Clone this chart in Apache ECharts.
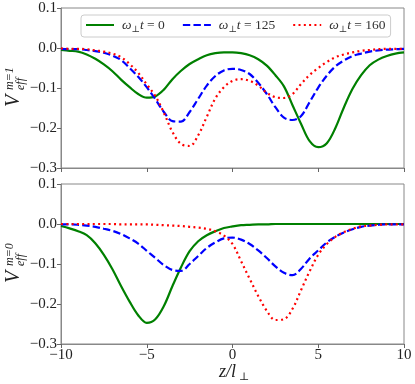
<!DOCTYPE html>
<html>
<head>
<meta charset="utf-8">
<script src="https://cdn.jsdelivr.net/npm/echarts@6/dist/echarts.min.js"></script>
<style>
  html, body { margin: 0; padding: 0; background: #fff; }
  #chart { width: 415px; height: 384px; }
</style>
</head>
<body>
<div id="chart"></div>
<script>
// z / l_perp sample points
var zs = [-10, -9.5, -9, -8.5, -8, -7.5, -7, -6.5, -6, -5.5, -5, -4.5, -4, -3.5, -3, -2.5, -2, -1.5, -1, -0.5,
          0, 0.5, 1, 1.5, 2, 2.5, 3, 3.5, 4, 4.5, 5, 5.5, 6, 6.5, 7, 7.5, 8, 8.5, 9, 9.5, 10];

// top panel, m = 1
var top_t0 = [-0.005, -0.007, -0.009, -0.016, -0.027, -0.041, -0.058, -0.079, -0.098, -0.115, -0.124, -0.121, -0.104, -0.078, -0.057, -0.040, -0.028, -0.018, -0.013, -0.011,
              -0.011, -0.013, -0.018, -0.028, -0.044, -0.068, -0.096, -0.143, -0.190, -0.233, -0.248, -0.238, -0.200, -0.148, -0.102, -0.068, -0.043, -0.029, -0.020, -0.014, -0.011];
var top_t125 = [-0.002, -0.003, -0.003, -0.005, -0.008, -0.012, -0.019, -0.030, -0.050, -0.072, -0.098, -0.128, -0.160, -0.183, -0.184, -0.160, -0.127, -0.094, -0.070, -0.056,
                -0.052, -0.055, -0.065, -0.087, -0.115, -0.148, -0.174, -0.180, -0.170, -0.135, -0.099, -0.069, -0.046, -0.031, -0.020, -0.014, -0.009, -0.006, -0.004, -0.003, -0.002];
var top_t160 = [-0.001, -0.002, -0.002, -0.003, -0.006, -0.009, -0.014, -0.023, -0.040, -0.062, -0.091, -0.120, -0.162, -0.210, -0.240, -0.245, -0.218, -0.172, -0.126, -0.098,
                -0.082, -0.078, -0.082, -0.094, -0.112, -0.123, -0.125, -0.115, -0.090, -0.067, -0.050, -0.035, -0.023, -0.016, -0.011, -0.007, -0.005, -0.003, -0.002, -0.002, -0.002];

// bottom panel, m = 0
var bot_t0 = [-0.005, -0.011, -0.018, -0.028, -0.048, -0.077, -0.113, -0.155, -0.194, -0.228, -0.247, -0.238, -0.205, -0.155, -0.108, -0.068, -0.043, -0.028, -0.018, -0.010,
              -0.006, -0.003, -0.002, -0.001, -0.001, 0, 0, 0, 0, 0, 0, 0, 0, 0, 0, 0, 0, 0, 0, 0, 0];
var bot_t125 = [-0.001, -0.001, -0.002, -0.004, -0.007, -0.012, -0.017, -0.025, -0.036, -0.049, -0.067, -0.085, -0.103, -0.115, -0.117, -0.100, -0.080, -0.060, -0.046, -0.036,
                -0.034, -0.039, -0.050, -0.066, -0.085, -0.106, -0.122, -0.128, -0.112, -0.086, -0.066, -0.046, -0.032, -0.021, -0.013, -0.007, -0.004, -0.002, -0.001, -0.001, -0.001];
var bot_t160 = [0, 0, 0, 0, 0, 0, 0, -0.001, -0.001, -0.001, -0.001, -0.002, -0.003, -0.004, -0.005, -0.007, -0.009, -0.012, -0.018, -0.029,
                -0.050, -0.093, -0.137, -0.180, -0.217, -0.240, -0.238, -0.212, -0.165, -0.118, -0.077, -0.050, -0.032, -0.020, -0.012, -0.006, -0.004, -0.002, -0.001, -0.001, -0.001];

var legendNames = ['0', '125', '160'];
var xTicks = [-10, -5, 0, 5, 10];
var yTicks = [0.1, 0.0, -0.1, -0.2, -0.3];

var serif = '"Liberation Serif", "DejaVu Serif", serif';
var colors = ['#008000', '#0000ff', '#ff0000'];
var dashes = ['solid', [7.4, 3.2], [2, 3.3]];

function pairs(arr) {
    return zs.map(function (z, i) { return [z, arr[i]]; });
}
function fmtY(v) {
    var s = (Math.round(v * 10) / 10).toFixed(1);
    if (s === '-0.0') s = '0.0';
    return s.replace('-', '\u2212');
}
function fmtX(v) {
    return String(Math.round(v)).replace('-', '\u2212');
}

function makeX(idx, showLabel) {
    return {
        type: 'value', gridIndex: idx, min: xTicks[0], max: xTicks[xTicks.length - 1], interval: 5,
        axisLine: { show: true, onZero: false, lineStyle: { color: '#888', width: 1 } },
        axisTick: { show: true, inside: false, length: 4, lineStyle: { color: '#666' } },
        axisLabel: { show: showLabel, formatter: fmtX, fontFamily: serif, fontSize: 15, color: '#222', margin: 4 },
        splitLine: { show: false }
    };
}
function makeY(idx) {
    return {
        type: 'value', gridIndex: idx, min: yTicks[yTicks.length - 1], max: yTicks[0], interval: 0.1,
        axisLine: { show: true, onZero: false, lineStyle: { color: '#888', width: 1 } },
        axisTick: { show: true, inside: false, length: 4, lineStyle: { color: '#666' } },
        axisLabel: { formatter: fmtY, fontFamily: serif, fontSize: 15, color: '#222', margin: 4 },
        splitLine: { show: false }
    };
}

var sets = [[top_t0, top_t125, top_t160], [bot_t0, bot_t125, bot_t160]];
var series = [];
sets.forEach(function (group, g) {
    group.forEach(function (arr, k) {
        series.push({
            name: legendNames[k],
            type: 'line',
            xAxisIndex: g, yAxisIndex: g,
            data: pairs(arr),
            smooth: 0.35,
            symbol: 'none',
            silent: true,
            lineStyle: { color: colors[k], width: 2.2, type: dashes[k], cap: 'butt' },
            itemStyle: { color: colors[k] }
        });
    });
});

function yTitle(cy, sup) {
    return {
        type: 'group', x: 14, y: cy, rotation: Math.PI / 2,
        children: [
            { type: 'text', x: -21, y: 0, style: { text: 'V', fontFamily: serif, fontStyle: 'italic', fontSize: 20, fill: '#222', align: 'left', verticalAlign: 'middle' } },
            { type: 'text', x: -4, y: -4, style: { text: sup, fontFamily: serif, fontStyle: 'italic', fontSize: 12, fill: '#222', align: 'left', verticalAlign: 'middle' } },
            { type: 'text', x: -4, y: 7, style: { text: 'eff', fontFamily: serif, fontStyle: 'italic', fontSize: 12, fill: '#222', align: 'left', verticalAlign: 'middle' } }
        ]
    };
}

var option = {
    animation: false,
    backgroundColor: '#fff',
    grid: [
        { left: 61, right: 11, top: 8, height: 160, show: true, borderColor: '#888', borderWidth: 1, backgroundColor: 'transparent' },
        { left: 61, right: 11, top: 184, height: 160, show: true, borderColor: '#888', borderWidth: 1, backgroundColor: 'transparent' }
    ],
    xAxis: [makeX(0, false), makeX(1, true)],
    yAxis: [makeY(0), makeY(1)],
    legend: {
        data: legendNames,
        left: 81, top: 15,
        padding: [3, 5, 3, 4],
        itemWidth: 28, itemHeight: 12, itemGap: 17,
        borderColor: '#ccc', borderWidth: 1, borderRadius: 3,
        backgroundColor: 'rgba(255,255,255,0.85)',
        selectedMode: false,
        itemStyle: { opacity: 0 },
        formatter: function (n) { return '{i|ω}{s|⊥}{i|t}{n| = ' + n + '}'; },
        textStyle: {
            padding: [0, 0, 0, 3],
            rich: {
                i: { fontFamily: serif, fontStyle: 'italic', fontSize: 13.5, color: '#333', lineHeight: 18 },
                s: { fontFamily: serif, fontSize: 9, color: '#333', lineHeight: 10, verticalAlign: 'bottom' },
                n: { fontFamily: serif, fontSize: 13.5, color: '#333', lineHeight: 18 }
            }
        }
    },
    graphic: [
        yTitle(86, 'm=1'),
        yTitle(262, 'm=0'),
        { type: 'text', x: 219, y: 372, style: { text: 'z/l', fontFamily: serif, fontStyle: 'italic', fontSize: 18, fill: '#222', align: 'left', verticalAlign: 'middle' } },
        { type: 'text', x: 239, y: 377, style: { text: '⊥', fontFamily: serif, fontSize: 11, fill: '#222', align: 'left', verticalAlign: 'middle' } }
    ],
    series: series
};

var chart = echarts.init(document.getElementById('chart'), null, { renderer: 'canvas' });
chart.setOption(option);
</script>
</body>
</html>
